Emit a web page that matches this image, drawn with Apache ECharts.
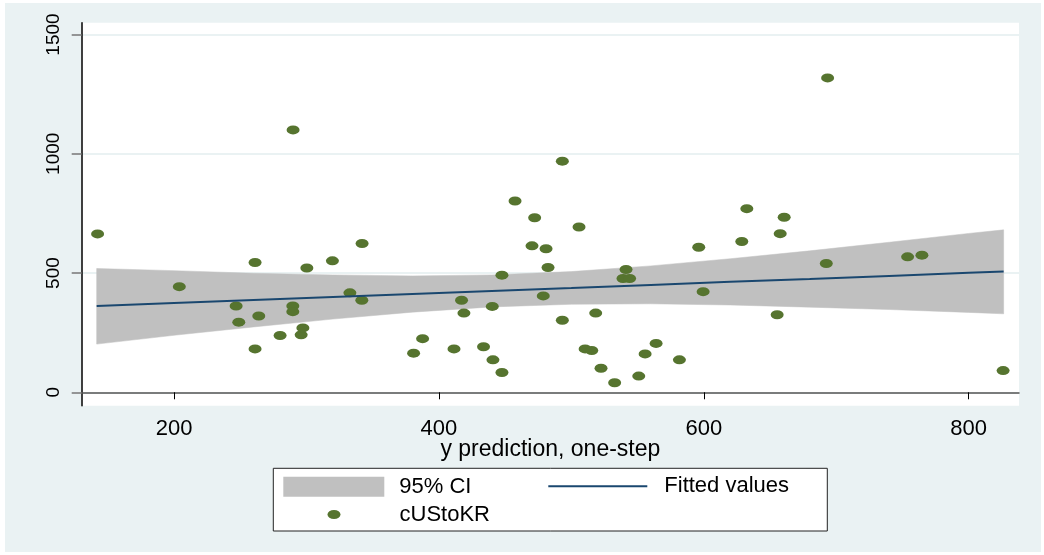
<!DOCTYPE html>
<html>
<head>
<meta charset="utf-8">
<script src="https://cdn.jsdelivr.net/npm/echarts@6/dist/echarts.min.js"></script>
<style>
  html, body { margin: 0; padding: 0; background: #fff; }
  #chart { position: absolute; left: 5px; top: 3px; width: 1036px; height: 549px; background: #eaf2f3; }
</style>
</head>
<body>
<div id="chart"></div>
<script>
// Stata-style colors
const BAND_COLOR = "#c0c0c0";
const FIT_COLOR = "#1a476f";
const DOT_COLOR = "#56742f";
const FONT = "Liberation Sans, Arial, sans-serif";

// x positions where the CI band / fitted line were read
const bandX = [141.6, 200, 260, 320, 380, 440, 500, 560, 620, 680, 740, 800, 826.4];
const bandLo = [202, 239, 274, 307, 336, 358, 369, 371, 366, 357, 347, 335, 329];
const bandHi = [519, 510, 499, 492, 488, 492, 506, 530, 560, 593, 629, 666, 681];
const fitY = [362, 374, 387, 400, 412, 425, 437, 450, 463, 475, 488, 501, 506];

// scatter: y prediction (x) vs cUStoKR (y)
const predX = [
  142.3, 204, 246.9, 248.9, 261.2, 261.2, 264, 280.1, 289.7, 289.7,
  289.9, 296, 297.3, 300.3, 319.6, 332.8, 342, 341.8, 380.9, 387.7,
  411.4, 417.1, 418.9, 433.7, 440.3, 440.8, 447.6, 447.6, 457.5, 470.3,
  472.3, 478.8, 480.9, 482.4, 493.2, 493.2, 505.8, 510.4, 515.4, 518.4,
  522.4, 532.7, 539, 541.3, 544, 550.9, 555.7, 564, 581.6, 596.2,
  599.5, 628.7, 632.5, 655.4, 657.7, 660.7, 692.5, 693.5, 753.9, 764.7,
  826
];
const cUStoKR = [
  664, 443, 362, 294, 544, 182, 320, 238, 362, 338,
  1100, 241, 270, 521, 551, 417, 624, 386, 164, 225,
  182, 386, 332, 191, 360, 136, 83, 491, 802, 614,
  732, 404, 602, 523, 969, 302, 693, 182, 175, 332,
  101, 40, 477, 515, 477, 68, 161, 205, 136, 608,
  422, 632, 770, 325, 665, 734, 540, 1318, 568, 575,
  91
];

const xTicks = [200, 400, 600, 800];
const yTicks = [0, 500, 1000, 1500];

const chart = echarts.init(document.getElementById("chart"));

// whole CI band as one polygon: upper edge forward, lower edge back
function renderBand(params, api) {
  if (params.dataIndex !== 0) return null;
  const pts = [];
  for (let i = 0; i < bandX.length; i++) pts.push(api.coord([bandX[i], bandHi[i]]));
  for (let i = bandX.length - 1; i >= 0; i--) pts.push(api.coord([bandX[i], bandLo[i]]));
  return {
    type: "polygon",
    shape: { points: pts },
    style: { fill: BAND_COLOR, stroke: BAND_COLOR, lineWidth: 0.5 },
  };
}

const option = {
  animation: false,
  backgroundColor: "transparent",
  textStyle: { fontFamily: FONT, color: "#000" },
  grid: {
    left: 76.7,
    top: 19.7,
    right: 22,
    bottom: 146.3,
    show: true,
    backgroundColor: "#fff",
    borderWidth: 0,
  },
  graphic: {
    elements: [
      {
        type: "rect",
        shape: { x: 268.3, y: 465.3, width: 554, height: 62.7 },
        style: { fill: "#fff", stroke: "#222", lineWidth: 1 },
      },
    ],
  },
  legend: [
    {
      data: [{ name: "95% CI", icon: "rect", itemStyle: { color: BAND_COLOR } }],
      left: 278.3,
      top: 472.7,
      padding: 0,
      itemWidth: 101,
      itemHeight: 20,
      selectedMode: false,
      textStyle: { fontSize: 22, fontFamily: FONT, color: "#000", padding: [0, 0, 0, 10] },
    },
    {
      data: [{ name: "Fitted values", icon: "rect", itemStyle: { color: FIT_COLOR } }],
      left: 543.3,
      top: 472.2,
      padding: 0,
      itemWidth: 99,
      itemHeight: 2,
      selectedMode: false,
      textStyle: { fontSize: 22, fontFamily: FONT, color: "#000", padding: [0, 0, 0, 12] },
    },
    {
      data: [{ name: "cUStoKR", icon: "path://M0,4.5A6.5,4.5 0 1 0 13,4.5A6.5,4.5 0 1 0 0,4.5Z", itemStyle: { color: DOT_COLOR } }],
      left: 322.5,
      top: 500.5,
      padding: 0,
      itemWidth: 13,
      itemHeight: 9,
      selectedMode: false,
      textStyle: { fontSize: 22, fontFamily: FONT, color: "#000", padding: [0, 0, 0, 54] },
    },
  ],
  xAxis: {
    type: "value",
    min: 130.3,
    max: 838,
    name: "y prediction, one-step",
    nameLocation: "middle",
    nameGap: 32,
    nameMoveOverlap: false,
    nameTextStyle: { fontSize: 23, fontFamily: FONT, color: "#000" },
    axisLine: { show: true, lineStyle: { color: "#555", width: 1.5 } },
    axisTick: { show: true, customValues: xTicks, length: 7, lineStyle: { color: "#000" } },
    axisLabel: { customValues: xTicks, fontSize: 22, color: "#000", margin: 12, formatter: (v) => String(v) },
    splitLine: { show: false },
  },
  yAxis: {
    type: "value",
    min: -56.2,
    max: 1549.5,
    axisLine: { show: true, lineStyle: { color: "#000", width: 1.5 } },
    axisTick: { show: true, customValues: yTicks, length: 10, lineStyle: { color: "#777", width: 1.5 } },
    axisLabel: { customValues: yTicks, fontSize: 19, color: "#000", rotate: 90, margin: 18, formatter: (v) => String(v) },
    splitLine: { show: true, lineStyle: { color: "#eaf2f3", width: 2 } },
  },
  series: [
    {
      name: "95% CI",
      type: "custom",
      renderItem: renderBand,
      data: bandX.map((x, i) => [x, bandLo[i], bandHi[i]]),
      encode: { x: 0, y: [1, 2] },
      silent: true,
      itemStyle: { color: BAND_COLOR },
    },
    {
      name: "Fitted values",
      type: "line",
      data: bandX.map((x, i) => [x, fitY[i]]),
      symbol: "none",
      itemStyle: { color: FIT_COLOR },
      lineStyle: { color: FIT_COLOR, width: 2 },
    },
    {
      name: "cUStoKR",
      type: "scatter",
      data: predX.map((x, i) => [x, cUStoKR[i]]),
      symbol: "circle",
      symbolSize: [13, 9],
      itemStyle: { color: DOT_COLOR, opacity: 1 },
    },
  ],
};

chart.setOption(option);
</script>
</body>
</html>
